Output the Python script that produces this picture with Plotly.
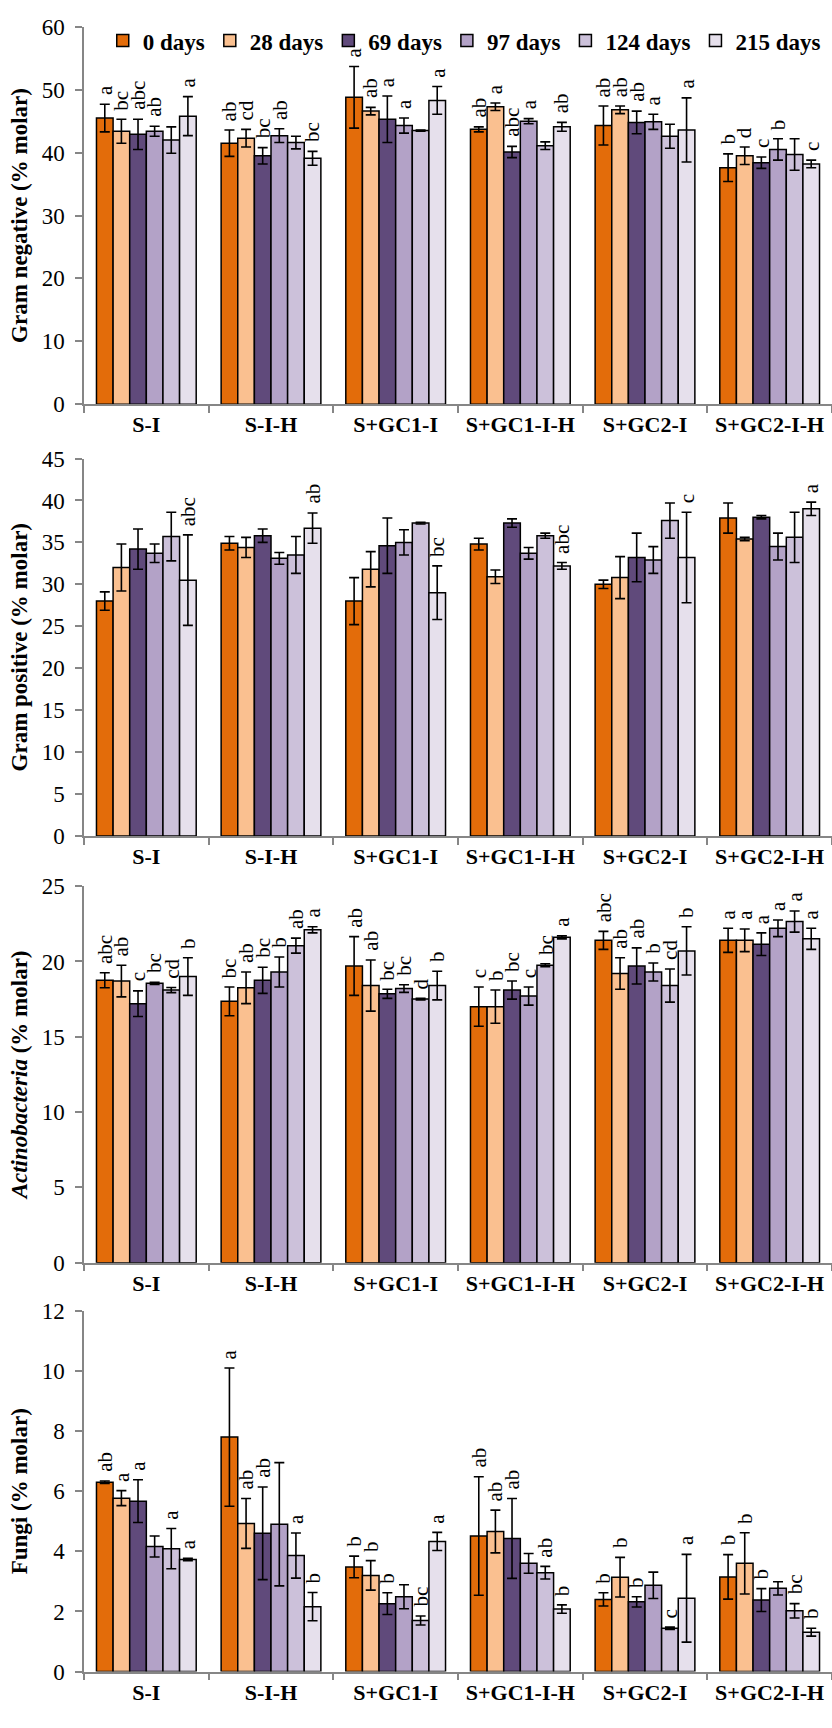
import plotly.graph_objects as go

groups = ["S-I", "S-I-H", "S+GC1-I", "S+GC1-I-H", "S+GC2-I", "S+GC2-I-H"]
days = ["0 days", "28 days", "69 days", "97 days", "124 days", "215 days"]
colors = ["#E36C0A", "#FAC090", "#604A7B", "#B3A2C7", "#CCC1DA", "#E6E0EC"]

# ---- Gram negative (rows = days, columns = groups)
gn_mean = [
    [45.5, 41.5, 48.8, 43.7, 44.3, 37.6],
    [43.4, 42.3, 46.6, 47.3, 46.8, 39.5],
    [42.9, 39.5, 45.3, 40.1, 44.8, 38.4],
    [43.4, 42.7, 44.3, 45.0, 44.9, 40.5],
    [42.0, 41.6, 43.5, 41.1, 42.6, 39.7],
    [45.8, 39.1, 48.3, 44.1, 43.6, 38.2],
]
gn_err = [
    [2.2, 2.1, 4.9, 0.4, 3.1, 2.2],
    [1.9, 1.4, 0.6, 0.6, 0.6, 1.4],
    [2.4, 1.3, 3.7, 0.9, 1.8, 0.9],
    [0.8, 1.1, 1.2, 0.4, 1.2, 1.7],
    [2.1, 1.0, 0.1, 0.6, 1.9, 2.5],
    [3.1, 1.1, 2.2, 0.7, 5.1, 0.6],
]
gn_letters = [
    ["a", "ab", "a", "ab", "ab", "b"],
    ["bc", "cd", "ab", "a", "ab", "d"],
    ["abc", "bc", "a", "abc", "ab", "c"],
    ["ab", "ab", "a", "a", "a", "b"],
    ["", "", "", "", "", ""],
    ["a", "bc", "a", "ab", "a", "c"],
]

# ---- Gram positive
gp_mean = [
    [28.0, 34.9, 28.0, 34.8, 30.0, 37.9],
    [32.0, 34.4, 31.8, 30.9, 30.8, 35.4],
    [34.2, 35.8, 34.6, 37.3, 33.2, 38.0],
    [33.7, 33.1, 35.0, 33.7, 32.9, 34.5],
    [35.7, 33.5, 37.3, 35.8, 37.6, 35.6],
    [30.5, 36.7, 29.0, 32.2, 33.2, 39.0],
]
gp_err = [
    [1.1, 0.8, 2.8, 0.7, 0.5, 1.8],
    [2.8, 1.2, 2.1, 0.8, 2.5, 0.2],
    [2.4, 0.8, 3.3, 0.5, 2.9, 0.2],
    [1.1, 0.7, 1.5, 0.7, 1.6, 1.6],
    [2.9, 2.2, 0.1, 0.3, 2.1, 3.0],
    [5.4, 1.8, 3.2, 0.4, 5.4, 0.8],
]
gp_letters = [
    ["", "", "", "", "", ""],
    ["", "", "", "", "", ""],
    ["", "", "", "", "", ""],
    ["", "", "", "", "", ""],
    ["", "", "", "", "", ""],
    ["abc", "ab", "bc", "abc", "c", "a"],
]

# ---- Actinobacteria
ac_mean = [
    [18.75, 17.35, 19.7, 17.0, 21.4, 21.4],
    [18.7, 18.25, 18.4, 17.0, 19.2, 21.4],
    [17.2, 18.75, 17.85, 18.1, 19.7, 21.15],
    [18.55, 19.3, 18.2, 17.7, 19.3, 22.2],
    [18.1, 21.05, 17.5, 19.75, 18.4, 22.65],
    [19.0, 22.1, 18.4, 21.6, 20.7, 21.5],
]
ac_err = [
    [0.5, 0.95, 1.95, 1.3, 0.6, 0.8],
    [1.05, 1.05, 1.7, 1.1, 1.05, 0.75],
    [0.85, 0.87, 0.3, 0.6, 1.2, 0.75],
    [0.07, 1.0, 0.25, 0.6, 0.6, 0.55],
    [0.17, 0.5, 0.05, 0.1, 1.1, 0.7],
    [1.25, 0.2, 0.95, 0.1, 1.6, 0.7],
]
ac_letters = [
    ["abc", "bc", "ab", "c", "abc", "a"],
    ["ab", "ab", "ab", "b", "ab", "a"],
    ["c", "bc", "bc", "bc", "ab", "a"],
    ["bc", "b", "bc", "c", "b", "a"],
    ["cd", "ab", "d", "bc", "cd", "a"],
    ["b", "a", "b", "a", "b", "a"],
]

# ---- Fungi
fu_mean = [
    [6.3, 7.8, 3.48, 4.51, 2.4, 3.15],
    [5.77, 4.93, 3.2, 4.66, 3.14, 3.6],
    [5.67, 4.6, 2.26, 4.43, 2.32, 2.38],
    [4.16, 4.9, 2.49, 3.6, 2.87, 2.77],
    [4.09, 3.86, 1.7, 3.29, 1.44, 2.02],
    [3.73, 2.16, 4.33, 2.08, 2.44, 1.31],
]
fu_err = [
    [0.04, 2.3, 0.36, 1.97, 0.22, 0.74],
    [0.25, 0.83, 0.49, 0.71, 0.66, 1.02],
    [0.71, 1.54, 0.36, 1.33, 0.17, 0.38],
    [0.35, 2.05, 0.4, 0.33, 0.44, 0.22],
    [0.67, 0.75, 0.15, 0.21, 0.04, 0.24],
    [0.04, 0.47, 0.3, 0.14, 1.46, 0.13],
]
fu_letters = [
    ["ab", "a", "b", "ab", "b", "b"],
    ["a", "ab", "b", "ab", "b", "b"],
    ["a", "ab", "b", "ab", "b", "b"],
    ["", "", "", "", "", ""],
    ["a", "a", "bc", "ab", "c", "bc"],
    ["a", "b", "a", "b", "a", "b"],
]

panel_titles = ["Gram negative (% molar)", "Gram positive (% molar)",
                "<i>Actinobacteria</i> (% molar)", "Fungi (% molar)"]
panel_ranges = [[0, 60], [0, 45], [0, 25], [0, 12]]
panel_dticks = [10, 5, 5, 2]
panel_domains = [[0.7697, 0.9913], [0.5162, 0.7378], [0.2656, 0.4867], [0.0255, 0.2373]]
means = [gn_mean, gp_mean, ac_mean, fu_mean]
errs = [gn_err, gp_err, ac_err, fu_err]
letters = [gn_letters, gp_letters, ac_letters, fu_letters]

FONT = "Liberation Serif"
BARGAP = 0.2
AXIS_COL = "#868686"

fig = go.Figure()
annotations = []
for p in range(4):
    xa = "x" if p == 0 else f"x{p+1}"
    ya = "y" if p == 0 else f"y{p+1}"
    for j, day in enumerate(days):
        fig.add_trace(go.Bar(
            x=groups, y=means[p][j], name=day, legendgroup=day,
            showlegend=(p == 0), xaxis=xa, yaxis=ya,
            marker=dict(color=colors[j], line=dict(color="black", width=1.5)),
            error_y=dict(type="data", array=errs[p][j], color="black",
                         thickness=1.6, width=5),
        ))
        bw = (1 - BARGAP) / len(days)
        for gi in range(len(groups)):
            lab = letters[p][j][gi]
            if not lab:
                continue
            annotations.append(dict(
                x=gi + (j - 2.5) * bw, y=means[p][j][gi] + errs[p][j][gi],
                xref=xa, yref=ya, text=lab, showarrow=False, textangle=-90,
                xanchor="center", yanchor="bottom", yshift=7,
                font=dict(family=FONT, size=21, color="black"),
            ))

layout = dict(
    width=832, height=1728, margin=dict(l=0, r=0, t=0, b=0),
    paper_bgcolor="white", plot_bgcolor="white",
    barmode="group", bargap=BARGAP, bargroupgap=0,
    font=dict(family=FONT, color="black"),
    showlegend=True,
    legend=dict(orientation="h", x=0.558, xanchor="center", y=1 - 29 / 1728,
                yanchor="middle", font=dict(family=FONT, size=23, weight="bold"),
                bgcolor="rgba(0,0,0,0)", traceorder="normal", itemwidth=30),
    annotations=annotations,
)
for p in range(4):
    xk = "xaxis" if p == 0 else f"xaxis{p+1}"
    yk = "yaxis" if p == 0 else f"yaxis{p+1}"
    ya = "y" if p == 0 else f"y{p+1}"
    xa = "x" if p == 0 else f"x{p+1}"
    layout[xk] = dict(
        domain=[84 / 832, 1.0], anchor=ya, type="category",
        showline=True, linecolor=AXIS_COL, linewidth=1.5,
        ticks="outside", tickson="boundaries", ticklen=7, tickcolor=AXIS_COL,
        tickwidth=1.5, showgrid=False, zeroline=False,
        tickfont=dict(family=FONT, size=22, color="black", weight="bold"),
        ticklabelstandoff=0,
    )
    layout[yk] = dict(
        domain=panel_domains[p], anchor=xa, range=panel_ranges[p],
        dtick=panel_dticks[p], showline=True, linecolor=AXIS_COL, linewidth=1.5,
        ticks="outside", ticklen=7, tickcolor=AXIS_COL, tickwidth=1.5,
        showgrid=False, zeroline=False,
        tickfont=dict(family=FONT, size=23, color="black"),
        ticklabelstandoff=6,
        title=dict(text=panel_titles[p], standoff=8,
                   font=dict(family=FONT, size=23, color="black", weight="bold")),
    )
fig.update_layout(**layout)
fig.write_html("out.html")
